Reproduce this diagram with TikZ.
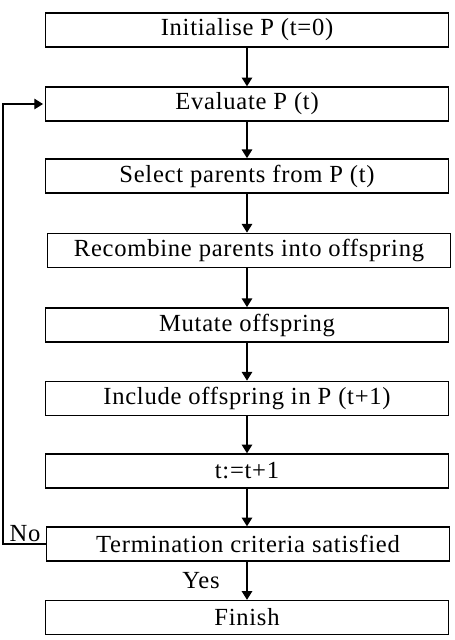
\documentclass[tikz,border=0pt]{standalone}
\usepackage{fontspec}
\setmainfont{Liberation Serif}
\usetikzlibrary{arrows.meta}
\tikzset{
    gabox/.style={draw=black, thick, minimum width=403*0.02cm, minimum height=34*0.02cm, align=center, font=\fontsize{14}{16}\selectfont\addfontfeatures{LetterSpace=3}},
    galine/.style={-{Triangle[length=5pt, width=6pt]}, thick}
}

\begin{document}
\begin{tikzpicture}[x=0.02cm, y=-0.02cm]
            \useasboundingbox (0,0) rectangle (454,640);
            \node[gabox] (init) at (247,30) {Initialise P (t=0)};
            \node[gabox] (eval) at (247,104) {Evaluate P (t)};
            \node[gabox] (select) at (247,176) {Select parents from P (t)};
            \node[gabox] (recomb) at (249,250.5) {Recombine parents into offspring};
            \node[gabox] (mutate) at (247,325) {Mutate offspring};
            \node[gabox] (incl) at (247,398.5) {Include offspring in P (t+1)};
            \node[gabox] (incr) at (247,471) {t:=t+1};
            \node[gabox] (term) at (248,544) {Termination criteria satisfied};
            \node[gabox] (finish) at (247,617.5) {Finish};
            \coordinate (back) at (3,544);
            \draw[galine] (init)--(eval);
            \draw[galine] (eval)--(select);
            \draw[galine] (select)--(recomb.north -| select);
            \draw[galine] (recomb.south -| select)--(mutate);
            \draw[galine] (mutate)--(incl);
            \draw[galine] (incl)--(incr);
            \draw[galine] (incr)--(term.north -| incr);
            \draw[galine] (term.south -| incr)--(finish);
            \draw[galine] (term.west)--(back)|-([xshift=-1pt]eval.west);
            \node[font=\fontsize{14}{16}\selectfont\addfontfeatures{LetterSpace=3}] (no) at (25,534) {No};
            \node[font=\fontsize{14}{16}\selectfont\addfontfeatures{LetterSpace=3}] (yes) at (201,581) {Yes};
        \end{tikzpicture}
\end{document}
